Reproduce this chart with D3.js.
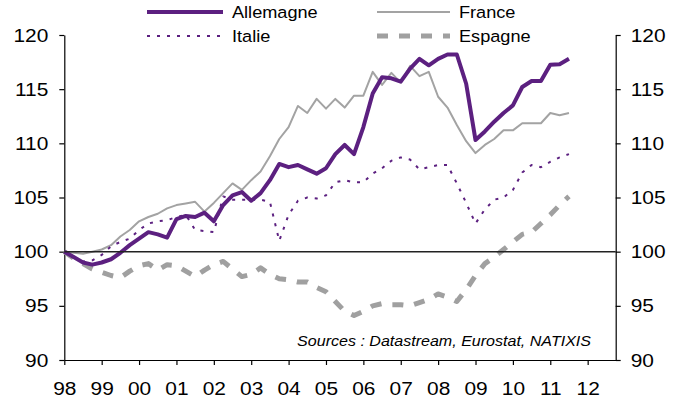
<!DOCTYPE html>
<html><head><meta charset="utf-8">
<script src="https://cdn.jsdelivr.net/npm/d3@7"></script>
<style>body{margin:0;background:#fff}svg{display:block}</style>
</head><body>
<svg id="chart" width="683" height="401"></svg>
<script>
// Quarterly index, 1998Q1 = 100
const startYear = 1998;
const allemagne = [
  100.0, 99.5, 99.0, 98.8,
  99.0, 99.3, 99.9, 100.6,
  101.2, 101.8, 101.6, 101.3,
  103.0, 103.3, 103.2, 103.6,
  102.8, 104.3, 105.2, 105.5,
  104.7, 105.4, 106.6, 108.1,
  107.8, 108.0, 107.6, 107.2,
  107.7, 109.0, 109.85, 109.0,
  111.5, 114.6, 116.1, 116.0,
  115.7, 116.9, 117.8, 117.2,
  117.8, 118.2, 118.2, 115.5,
  110.3, 111.1, 112.0, 112.8,
  113.5, 115.2, 115.75, 115.75,
  117.25, 117.3, 117.8
];
const france = [
  100.0, 99.9, 99.8, 100.0,
  100.2, 100.6, 101.4, 102.0,
  102.8, 103.2, 103.5, 104.0,
  104.3, 104.45, 104.6, 103.7,
  104.5, 105.4, 106.3, 105.7,
  106.6, 107.4, 108.8, 110.4,
  111.5, 113.45, 112.8, 114.1,
  113.2, 114.1, 113.3, 114.4,
  114.4, 116.6, 115.4, 116.5,
  115.6, 117.15, 116.2, 116.6,
  114.3, 113.3, 111.7, 110.2,
  109.1, 109.85, 110.4, 111.2,
  111.2, 111.85, 111.85, 111.85,
  112.8, 112.6, 112.8
];
const italie = [
  100.0, 99.5, 99.1, 99.2,
  99.7, 100.5, 100.9, 101.2,
  102.0, 102.6, 102.8, 102.9,
  103.2, 103.4, 102.0, 101.9,
  101.8, 105.1, 104.8, 104.8,
  104.8, 104.8, 104.6, 101.0,
  103.4, 104.7, 105.0, 104.9,
  105.2, 106.4, 106.6, 106.4,
  106.4, 107.2, 107.7, 108.4,
  108.7, 108.5, 107.6, 107.8,
  108.0, 108.0, 106.3, 104.5,
  102.6, 103.9, 104.8, 105.0,
  105.7, 107.3, 108.0, 107.8,
  108.3, 108.7, 109.0
];
const espagne = [
  100.0, 99.4, 98.9, 98.4,
  98.1, 97.8, 97.6, 98.2,
  98.7, 98.9, 98.3, 98.8,
  98.7, 98.2, 97.7, 98.3,
  98.8, 99.1, 98.4, 97.7,
  97.9, 98.5, 97.9, 97.5,
  97.4, 97.2, 97.2, 96.7,
  96.3, 95.4, 94.5, 94.1,
  94.5, 95.0, 95.2, 95.1,
  95.1, 95.0, 95.3, 95.6,
  96.1, 95.8, 95.4, 96.5,
  97.8, 98.9, 99.5, 100.2,
  100.9, 101.6, 101.8, 102.6,
  103.4, 104.3, 105.1
];
const seriesNames = ["Allemagne", "France", "Italie", "Espagne"];
const yTicks = [90, 95, 100, 105, 110, 115, 120];
const xTickYears = [1998,1999,2000,2001,2002,2003,2004,2005,2006,2007,2008,2009,2010,2011,2012];
const xTickLabels = ["98","99","00","01","02","03","04","05","06","07","08","09","10","11","12"];
const sourceText = "Sources : Datastream, Eurostat, NATIXIS";

const values = {Allemagne: allemagne, France: france, Italie: italie, Espagne: espagne};
const styles = {
  Allemagne: {stroke: "#5c2080", width: 4, dash: null},
  France:    {stroke: "#a3a3a3", width: 2, dash: null},
  Italie:    {stroke: "#5c2080", width: 2, dash: "3,7"},
  Espagne:   {stroke: "#a0a0a0", width: 5, dash: "11,11"}
};

const svg = d3.select("#chart");
const FONT = "'Liberation Sans', Arial, sans-serif";
const SX = 1.1;
function stretch(sel) {
  sel.each(function() {
    const t = d3.select(this);
    const tx = +t.attr("x") || 0;
    const ty = +t.attr("y") || 0;
    t.attr("transform", `translate(${tx},${ty}) scale(${SX},1) translate(${-tx},${-ty})`);
  });
}

const x = d3.scaleLinear().domain([1998, 2012.75]).range([64.3, 615.7]);
const y = d3.scaleLinear().domain([90, 120]).range([360, 35]);

// Axes
const gl = svg.append("g").attr("transform", `translate(${x(1998)},0)`)
  .call(d3.axisLeft(y).tickValues(yTicks).tickSize(5).tickSizeOuter(0).tickPadding(11));
const gr = svg.append("g").attr("transform", `translate(${x(2012.75)},0)`)
  .call(d3.axisRight(y).tickValues(yTicks).tickSize(5).tickSizeOuter(0).tickPadding(10));
const gb = svg.append("g").attr("transform", `translate(0,${y(90)})`)
  .call(d3.axisBottom(x).tickValues(xTickYears).tickFormat((d, i) => xTickLabels[i])
    .tickSize(5).tickSizeOuter(0).tickPadding(17));
[gl, gr, gb].forEach(g => {
  g.selectAll("path.domain").attr("stroke", "#000").attr("stroke-width", 1.2);
  g.selectAll(".tick line").attr("stroke", "#000").attr("stroke-width", 1.2);
  g.selectAll(".tick text").attr("fill", "#000").style("font-family", FONT).style("font-size", "19px");
  stretch(g.selectAll(".tick text"));
});

// Series
const line = d3.line()
  .x((d, i) => x(startYear + i * 0.25))
  .y(d => y(d));
["France", "Italie", "Espagne", "Allemagne"].forEach(name => {
  const s = styles[name];
  svg.append("path")
    .datum(values[name])
    .attr("fill", "none")
    .attr("stroke", s.stroke)
    .attr("stroke-width", s.width)
    .attr("stroke-linejoin", "round")
    .attr("stroke-dasharray", s.dash)
    .attr("d", line);
});

// 100 reference line
svg.append("line")
  .attr("x1", x(1998)).attr("x2", x(2012.75))
  .attr("y1", y(100)).attr("y2", y(100))
  .attr("stroke", "#222").attr("stroke-width", 1.5);

// Legend
const legendPos = [
  {x1: 147, x2: 223, tx: 232, cy: 12},
  {x1: 377, x2: 450, tx: 459, cy: 12},
  {x1: 147, x2: 223, tx: 232, cy: 36},
  {x1: 377, x2: 450, tx: 459, cy: 36}
];
seriesNames.forEach((name, i) => {
  const p = legendPos[i], s = styles[name];
  svg.append("line")
    .attr("x1", p.x1).attr("x2", p.x2).attr("y1", p.cy).attr("y2", p.cy)
    .attr("stroke", s.stroke).attr("stroke-width", s.width)
    .attr("stroke-dasharray", s.dash);
  const t = svg.append("text")
    .attr("x", p.tx).attr("y", p.cy + 6)
    .style("font-family", FONT).style("font-size", "16.5px").attr("fill", "#000")
    .text(name);
  stretch(t);
});

// Source note
const st = svg.append("text")
  .attr("x", 591).attr("y", 346)
  .attr("text-anchor", "end")
  .style("font-family", FONT).style("font-size", "14.6px").style("font-style", "italic")
  .attr("fill", "#000")
  .text(sourceText);
stretch(st);
</script>
</body></html>
